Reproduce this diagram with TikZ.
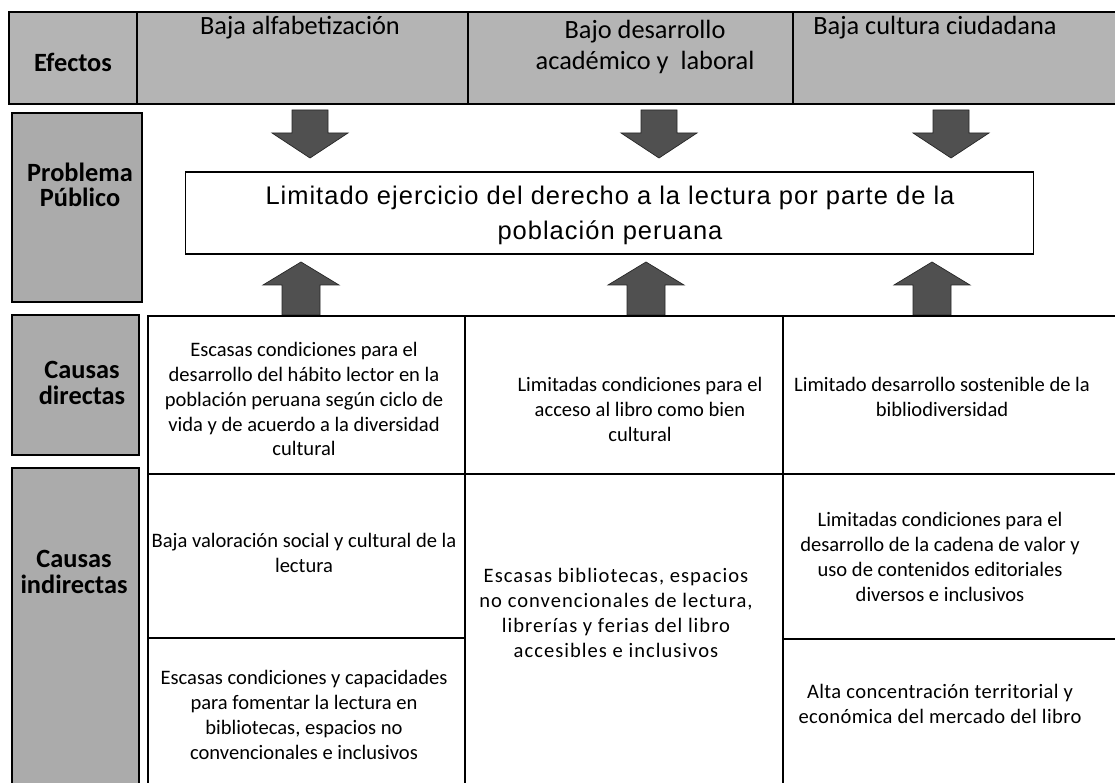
\documentclass[tikz,border=0pt]{standalone}
\usepackage{fontspec}
\setmainfont{Carlito}
\newfontfamily\arialf[LetterSpace=4]{Liberation Sans}
\newfontfamily\spacedf[LetterSpace=5]{Carlito}
\newfontfamily\lightspacedf[LetterSpace=2]{Carlito}
\definecolor{hdrgray}{HTML}{B4B4B4}
\definecolor{lblgray}{HTML}{ABABAB}
\definecolor{arrowgray}{HTML}{505050}
\begin{document}
\begin{tikzpicture}[x=0.02cm,y=-0.02cm,
  hdrtxt/.style={font=\fontsize{15}{17.6}\selectfont, align=center, inner sep=0pt},
  lbltxt/.style={font=\bfseries\fontsize{15}{14.3}\selectfont, align=center, inner sep=0pt},
  celltxt/.style={font=\fontsize{11.7}{14.2}\selectfont, align=center, inner sep=0pt},
  spacedtxt/.style={font=\spacedf\fontsize{11.7}{14.2}\selectfont, align=center, inner sep=0pt},
  lspacedtxt/.style={font=\lightspacedf\fontsize{11.7}{14.2}\selectfont, align=center, inner sep=0pt},
  probtxt/.style={font=\arialf\fontsize{14.5}{20}\selectfont, align=center, inner sep=0pt},
  blockarrow/.style={fill=arrowgray, draw=black!85, line width=0.4pt},
  grid/.style={draw=black, line width=0.6pt}
]
\useasboundingbox (0,0) rectangle (1115,783);
\fill[white] (0,0) rectangle (1115,783);

% ---- header band (Efectos) ----
\fill[hdrgray] (9,12) rectangle (1115,104);
\draw[grid] (1115,12) -- (9,12) -- (9,104) -- (1115,104);
\draw[grid] (137,12) -- (137,104);
\draw[grid] (468,12) -- (468,104);
\draw[grid] (793,12) -- (793,104);
\node[lbltxt] (efectos) at (73,62) {Efectos};
\node[hdrtxt] (ef1) at (300,28) {Baja alfabetización};
\node[hdrtxt] (ef2) at (645,47) {Bajo desarrollo\\académico y\ \ laboral};
\node[hdrtxt] (ef3) at (935,28) {Baja cultura ciudadana};

% ---- left label boxes ----
\draw[grid, fill=lblgray] (12,113) rectangle (142,302);
\node[lbltxt] (problema) at (80,185) {Problema\\Público};
\draw[grid, fill=lblgray] (12,315) rectangle (139,455);
\node[lbltxt] (directas) at (82,383) {Causas\\directas};
\draw[grid, fill=lblgray] (12,468) rectangle (139,790);
\node[lbltxt] (indirectas) at (74,572) {Causas\\indirectas};

% ---- problem box ----
\node[draw, line width=0.6pt, minimum width=16.98cm, minimum height=1.64cm, inner sep=0pt] (prob) at (609.5,213) {};
\node[probtxt] (probt) at (610,215) {Limitado ejercicio del derecho a la lectura por parte de la\\población peruana};

% ---- down arrows (effects -> problem) ----
\foreach \c in {310,659,951}{
  \draw[blockarrow] (\c-18,110) -- (\c+18,110) -- (\c+18,133) -- (\c+38,133) -- (\c,158) -- (\c-38,133) -- (\c-18,133) -- cycle;
}
% ---- up arrows (causes -> problem) ----
\foreach \c in {301,646,932}{
  \draw[blockarrow] (\c-19,315) -- (\c-19,285) -- (\c-38,285) -- (\c,262) -- (\c+38,285) -- (\c+19,285) -- (\c+19,315) -- cycle;
}

% ---- causes table ----
\draw[grid] (1115,316) -- (148,316) -- (148,790);
\draw[grid] (465,316) -- (465,790);
\draw[grid] (783,316) -- (783,790);
\draw[grid] (148,474) -- (1115,474);
\draw[grid] (148,638) -- (465,638);
\draw[grid] (783,639) -- (1115,639);

\node[celltxt] (cd1) at (304,399) {Escasas condiciones para el\\desarrollo del hábito lector en la\\población peruana según ciclo de\\vida y de acuerdo a la diversidad\\cultural};
\node[celltxt] (cd2) at (640,409) {Limitadas condiciones para el\\acceso al libro como bien\\cultural};
\node[celltxt] (cd3) at (942,397) {Limitado desarrollo sostenible de la\\bibliodiversidad};

\node[celltxt] (ci1) at (304,553) {Baja valoración social y cultural de la\\lectura};
\node[celltxt] (ci2) at (304,715) {Escasas condiciones y capacidades\\para fomentar la lectura en\\bibliotecas, espacios no\\convencionales e inclusivos};
\node[spacedtxt] (ci3) at (616,613) {Escasas bibliotecas, espacios\\no convencionales de lectura,\\librerías y ferias del libro\\accesibles e inclusivos};
\node[celltxt] (ci4) at (940,557) {Limitadas condiciones para el\\desarrollo de la cadena de valor y\\uso de contenidos editoriales\\diversos e inclusivos};
\node[lspacedtxt] (ci5) at (940,704) {Alta concentración territorial y\\económica del mercado del libro};
\end{tikzpicture}
\end{document}
